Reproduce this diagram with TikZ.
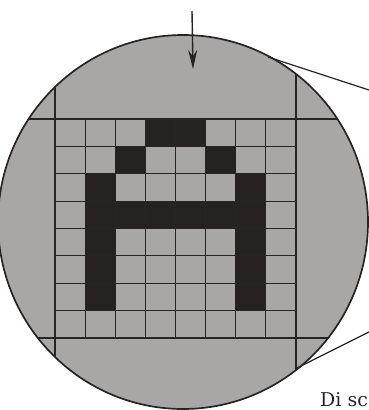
\documentclass[tikz,border=0pt]{standalone}
\usepackage{fontspec}
\newfontfamily\labelfont{DejaVu Serif}
\usetikzlibrary{arrows.meta}
\definecolor{diskgray}{RGB}{168,167,165}
\definecolor{cellblack}{RGB}{38,34,34}
\definecolor{inkline}{RGB}{40,36,36}
\tikzset{
  gridline/.style={draw=inkline, line width=1.2pt},
  rim/.style={draw=inkline, line width=1.7pt},
  pixel/.style={fill=cellblack},
  pointer/.style={draw=inkline, line width=1.4pt, -{Stealth[length=19pt,width=9pt]}},
  leader/.style={draw=inkline, line width=1.2pt},
  caption/.style={font=\labelfont\fontsize{19}{19}\selectfont, text=inkline, inner sep=0pt, anchor=base west}
}
\begin{document}
\begin{tikzpicture}[x=1pt,y=-1pt]
\useasboundingbox (0,0) rectangle (369,410);
\coordinate (C) at (183,222);
\begin{scope}
  \clip (C) ellipse [x radius=185pt, y radius=187pt];
  \fill[diskgray] (C) ellipse [x radius=185pt, y radius=187pt];
  % black pixels of the letter (columns 0..7, rows 0..7)
  \foreach \c/\r in {3/0,4/0,2/1,5/1,1/2,6/2,1/3,2/3,3/3,4/3,5/3,6/3,1/4,6/4,1/5,6/5,1/6,6/6}{
    \fill[pixel] ({55+\c*30.125},{119+\r*27.375}) rectangle ({55+(\c+1)*30.125},{119+(\r+1)*27.375});
  }
  % long frame lines
  \draw[gridline] (55,0) -- (55,410);
  \draw[gridline] (296,0) -- (296,410);
  \draw[gridline] (0,119) -- (369,119);
  \draw[gridline] (0,338) -- (369,338);
  % inner grid
  \foreach \i in {1,...,7}{
    \draw[gridline] ({55+\i*30.125},119) -- ({55+\i*30.125},338);
    \draw[gridline] (55,{119+\i*27.375}) -- (296,{119+\i*27.375});
  }
\end{scope}
\draw[rim] (C) ellipse [x radius=185pt, y radius=187pt];
% pointer arrow
\coordinate (arrowTail) at (192,11);
\coordinate (arrowTip) at (193,69);
\draw[pointer] (arrowTail) -- (arrowTip);
% leader lines
\coordinate (upperStart) at (268,57);
\coordinate (upperEnd) at (369,90);
\coordinate (lowerStart) at (297,368);
\coordinate (lowerEnd) at (369,332);
\draw[leader] (upperStart) -- (upperEnd);
\draw[leader] (lowerStart) -- (lowerEnd);
\node[caption] (cap) at (320,406) {Di sc};
\end{tikzpicture}
\end{document}
